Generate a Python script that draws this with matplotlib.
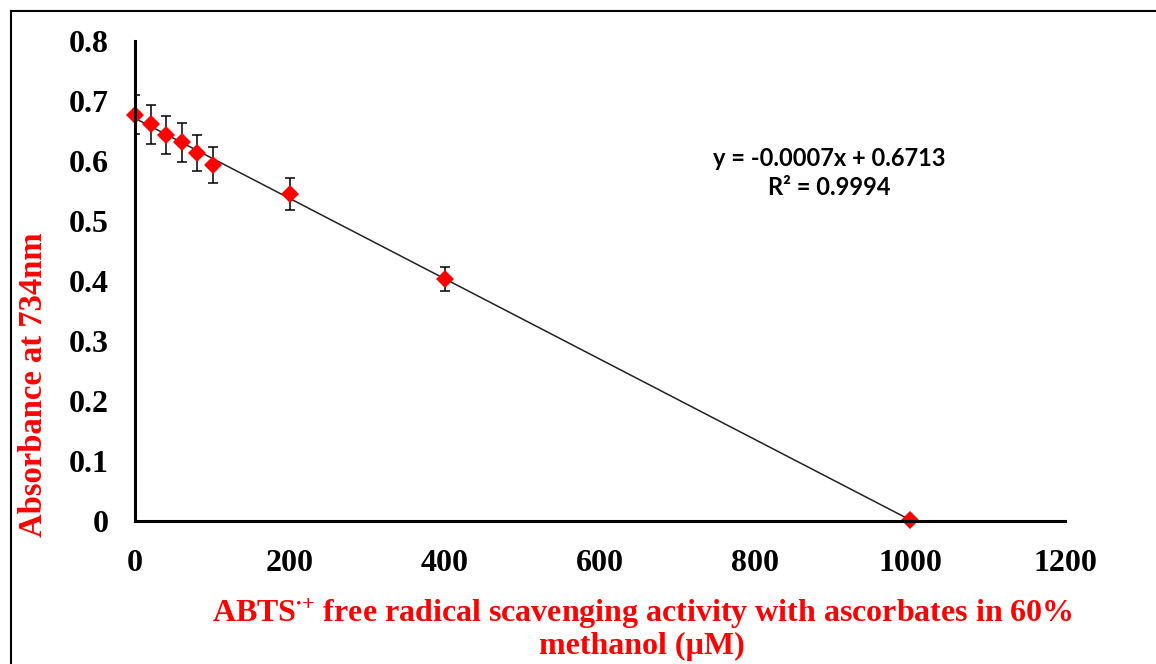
import numpy as np
import matplotlib
matplotlib.use("Agg")
import matplotlib.pyplot as plt
from matplotlib.lines import Line2D

plt.rcParams["mathtext.fontset"] = "custom"
plt.rcParams["mathtext.rm"] = "Liberation Serif:bold"
plt.rcParams["mathtext.bf"] = "Liberation Serif:bold"
plt.rcParams["mathtext.it"] = "Liberation Serif:bold"

# Data
conc = [0, 20, 40, 60, 80, 100, 200, 400, 1000]
absorb = [0.677, 0.661, 0.643, 0.631, 0.614, 0.593, 0.545, 0.403, 0.002]
err = [0.0325, 0.0325, 0.032, 0.032, 0.03, 0.03, 0.027, 0.02, 0.0]
xticks = [0, 200, 400, 600, 800, 1000, 1200]
yticks = [0, 0.1, 0.2, 0.3, 0.4, 0.5, 0.6, 0.7, 0.8]
eq_text = "y = -0.0007x + 0.6713\nR\u00b2 = 0.9994"
xlabel = "ABTS$^{{\\bullet}{+}}$ free radical scavenging activity with ascorbates in 60%\nmethanol (\u00b5M)"
ylabel = "Absorbance at 734nm"

fig = plt.figure(figsize=(11.56, 6.64), dpi=100)
ax = fig.add_axes([135/1156, 1-521/664, 930/1156, 480/664])

# trendline
slope, intercept = np.polyfit(conc, absorb, 1)
xl = np.array([conc[0], conc[-1]])
ax.plot(xl, slope*xl + intercept, color="#222222", lw=1.1, zorder=2)

ax.errorbar(conc, absorb, yerr=err, fmt="none", ecolor="black", elinewidth=1.1,
            capsize=3.6, capthick=1.1, zorder=3)
ax.plot(conc, absorb, "D", color="#ff0000", ms=9.2, mec="#ff0000", mew=0,
        zorder=4, clip_on=False)

ax.set_xlim(0, 1200)
ax.set_ylim(0, 0.8)
ax.set_xticks(xticks)
ax.set_yticks(yticks)
ax.set_xticklabels([str(t) for t in xticks])
ax.set_yticklabels(["0" if t == 0 else f"{t:.1f}" for t in yticks])
for s in ["top", "right"]:
    ax.spines[s].set_visible(False)
for s in ["left", "bottom"]:
    ax.spines[s].set_linewidth(2.2)
    ax.spines[s].set_color("black")
    ax.spines[s].set_zorder(5)
ax.tick_params(axis="y", length=0, pad=19)
ax.tick_params(axis="x", length=0, pad=20)
for lab in ax.get_xticklabels() + ax.get_yticklabels():
    lab.set_fontfamily("Liberation Serif")
    lab.set_fontweight("bold")
    lab.set_fontsize(23)

fig.text(34/1156, 1-385/664, ylabel, rotation=90, ha="center", va="center",
         fontfamily="Liberation Serif", fontweight="bold", fontsize=23.5, color="#ff0000")
fig.text(642/1156, 1-629/664, xlabel, ha="center", va="center", linespacing=1.05,
         fontfamily="Liberation Serif", fontweight="bold", fontsize=23, color="#ff0000")

fig.text(829/1156, 1-173/664, eq_text, ha="center", va="center", linespacing=1.27,
         fontfamily="Lato", fontweight="bold", fontsize=17, color="black")

# outer border
fig.add_artist(Line2D([11/1156, 1.0], [1-11/664, 1-11/664], transform=fig.transFigure,
                      color="black", lw=1.5))
fig.add_artist(Line2D([11/1156, 11/1156], [0, 1-11/664], transform=fig.transFigure,
                      color="black", lw=1.5))

fig.savefig("out.png", dpi=100)
